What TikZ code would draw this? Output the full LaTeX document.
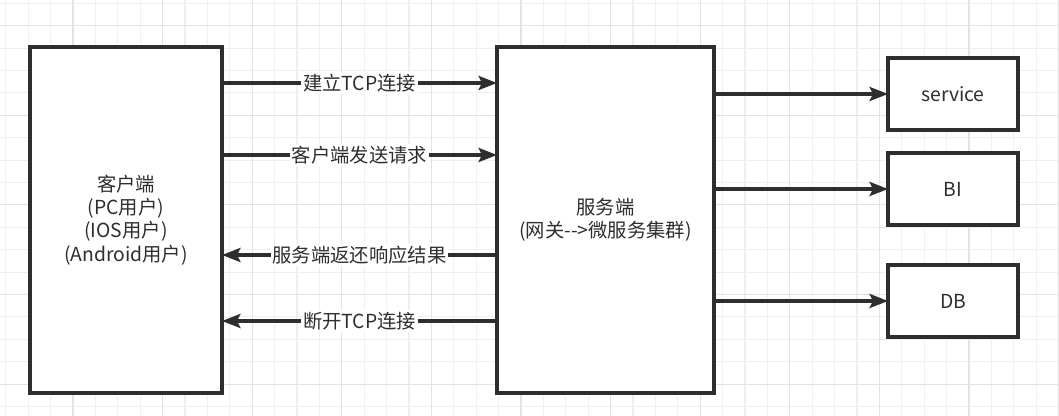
\documentclass[tikz,border=0pt]{standalone}
\usepackage{fontspec}
\setmainfont{Noto Sans CJK SC}
\usetikzlibrary{arrows.meta,positioning}
\definecolor{sketchink}{HTML}{2E2E2E}
\definecolor{sketchgrid}{HTML}{EFEFEF}
\definecolor{sketchgridmajor}{HTML}{E3E3E3}

\begin{document}
\begin{tikzpicture}[
  box/.style={draw=sketchink,fill=white,line width=1.9pt,outer sep=0pt,
              minimum width=38.4mm,minimum height=69.2mm,align=center,
              font=\fontsize{11}{13.2}\selectfont,text=sketchink},
  store/.style={box,minimum width=26mm,minimum height=14.4mm},
  paper/.style={sketchgrid,line width=0.6pt},
  paperbold/.style={sketchgridmajor,line width=0.6pt},
  arr/.style={-{Stealth[length=10.5pt,width=8pt,inset=2pt]},line width=1.9pt,
              sketchink},
  lbl/.style={fill=white,inner xsep=1pt,inner ysep=1pt,
              font=\fontsize{11}{13.2}\selectfont,text=sketchink}]
  \useasboundingbox[fill=white] (0,0) rectangle (21.18,-8.32);
  % background grid
  \foreach \i in {0,...,47}
    \draw[paper] ({0.116+0.448*\i},0) -- ++(0,-8.32);
  \foreach \j in {0,...,18}
    \draw[paper] (0,{-0.066-0.448*\j}) -- ++(21.18,0);
  \foreach \i in {3,7,...,47}
    \draw[paperbold] ({0.116+0.448*\i},0) -- ++(0,-8.32);
  \foreach \j in {1,5,...,17}
    \draw[paperbold] (0,{-0.066-0.448*\j}) -- ++(21.18,0);
  % boxes
  \node[box] (client) at (2.52,-4.40)
    {客户端\\(PC用户)\\(IOS用户)\\(Android用户)};
  \node[box,minimum width=43.4mm,right=55mm of client] (server)
    {服务端\\(网关{-}{-}>微服务集群)};
  \node[store] (service) at (19.06,-1.88) {service};
  \node[store,below=4.6mm of service] (bi) {BI};
  \node[store,below=8mm of bi] (db) {DB};
  % messages
  \draw[arr] ([yshift=27.4mm]client.east) -- node[lbl]{建立TCP连接}
             ([yshift=27.4mm]server.west);
  \draw[arr] ([yshift=13mm]client.east) -- node[lbl]{客户端发送请求}
             ([yshift=13mm]server.west);
  \draw[arr] ([yshift=-7mm]server.west) -- node[lbl]{服务端返还响应结果}
             ([yshift=-7mm]client.east);
  \draw[arr] ([yshift=-20.2mm]server.west) -- node[lbl]{断开TCP连接}
             ([yshift=-20.2mm]client.east);
  \foreach \dst in {service,bi,db}
    \draw[arr] (server.east |- \dst.west) -- (\dst.west);
\end{tikzpicture}
\end{document}
